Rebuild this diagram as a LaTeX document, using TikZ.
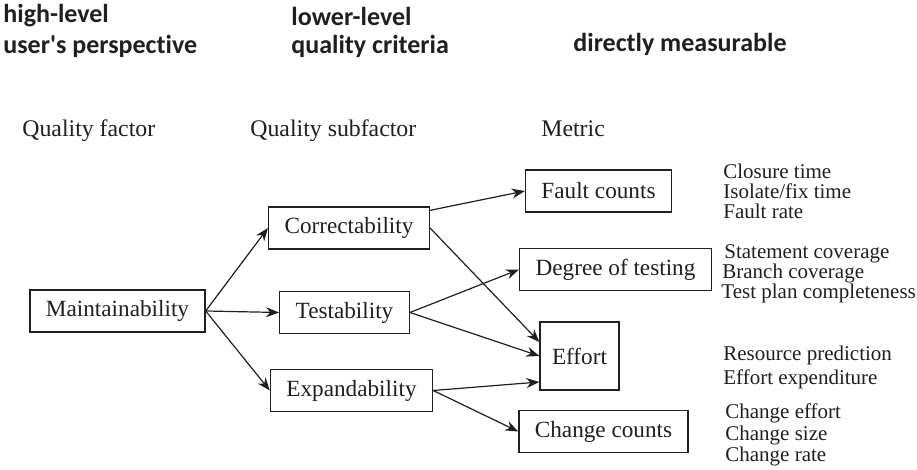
\documentclass[tikz,border=0pt]{standalone}
\usepackage{fontspec}
\setmainfont{Liberation Serif}
\newfontfamily\headfont[Ligatures=NoCommon]{Carlito}
\usetikzlibrary{arrows.meta}

\tikzset{
  box/.style={draw, line width=0.65pt, minimum height=21pt, inner xsep=8pt, font=\fontsize{11.6}{13}\selectfont},
  lbl/.style={anchor=west, inner sep=0pt, text height=7.5pt, text depth=2.5pt, font=\fontsize{10.5}{12}\selectfont},
  col/.style={lbl, font=\fontsize{11.9}{13}\selectfont},
  head/.style={anchor=west, inner sep=0pt, font=\headfont\bfseries\fontsize{13}{15}\selectfont},
  link/.style={line width=0.6pt, -{Stealth[length=6.5pt, width=5pt]}}
}

\begin{document}
\begin{tikzpicture}[x=0.5pt, y=-0.5pt, color={black!88}]
        \useasboundingbox (0,0) rectangle (917,470);

        % headings
        \node[head] (h1) at (3,16) {high-level};
        \node[head] (h2) at (3,46) {user's perspective};
        \node[head] (h3) at (291,16) {lower-level};
        \node[head] (h4) at (291,46) {quality criteria};
        \node[head] (h5) at (573,44) {directly measurable};

        \node[col] (cf) at (22,132) {Quality factor};
        \node[col] (cs) at (250,132) {Quality subfactor};
        \node[col] (cm) at (541,132) {Metric};

        % boxes
        \node[box] (Maint) at (117.5,311) {Maintainability};
        \node[box] (Corr) at (349,228) {Correctability};
        \node[box] (Test) at (344.5,312.5) {Testability};
        \node[box] (Exp) at (351.5,390.5) {Expandability};

        \node[box] (Fault) at (598.5,191) {Fault counts};
        \node[box] (Deg) at (615.5,269.5) {Degree of testing};
        \node[box, minimum height=34pt, inner xsep=6pt] (Eff) at (579.5,356) {Effort};
        \node[box] (Chg) at (603.5,431.5) {Change counts};

        % arrows
        \draw[link] (Maint.east) -- (Corr.west);
        \draw[link] (Maint.east) -- (Test.west);
        \draw[link] (Maint.east) -- (Exp.west);

        \draw[link] ([yshift=-2pt]Corr.north east) -- (Fault.west);
        \draw[link] (Corr.east) -- ([yshift=7pt]Eff.west);
        \draw[link] (Test.east) -- (Deg.west);
        \draw[link] (Test.east) -- (Eff.west);
        \draw[link] (Exp.east) -- ([yshift=-13pt]Eff.west);
        \draw[link] (Exp.east) -- (Chg.west);

        % metrics
        \node[lbl] (m1) at (723,174) {Closure time};
        \node[lbl] (m2) at (723,194) {Isolate/fix time};
        \node[lbl] (m3) at (723,214) {Fault rate};
        \node[lbl] (m4) at (724,254) {Statement coverage};
        \node[lbl] (m5) at (722,274) {Branch coverage};
        \node[lbl] (m6) at (721,294) {Test plan completeness};
        \node[lbl] (m7) at (723,356) {Resource prediction};
        \node[lbl] (m8) at (723,380) {Effort expenditure};
        \node[lbl] (m9) at (725,414) {Change effort};
        \node[lbl] (m10) at (725,436) {Change size};
        \node[lbl] (m11) at (725,457) {Change rate};
\end{tikzpicture}
\end{document}
